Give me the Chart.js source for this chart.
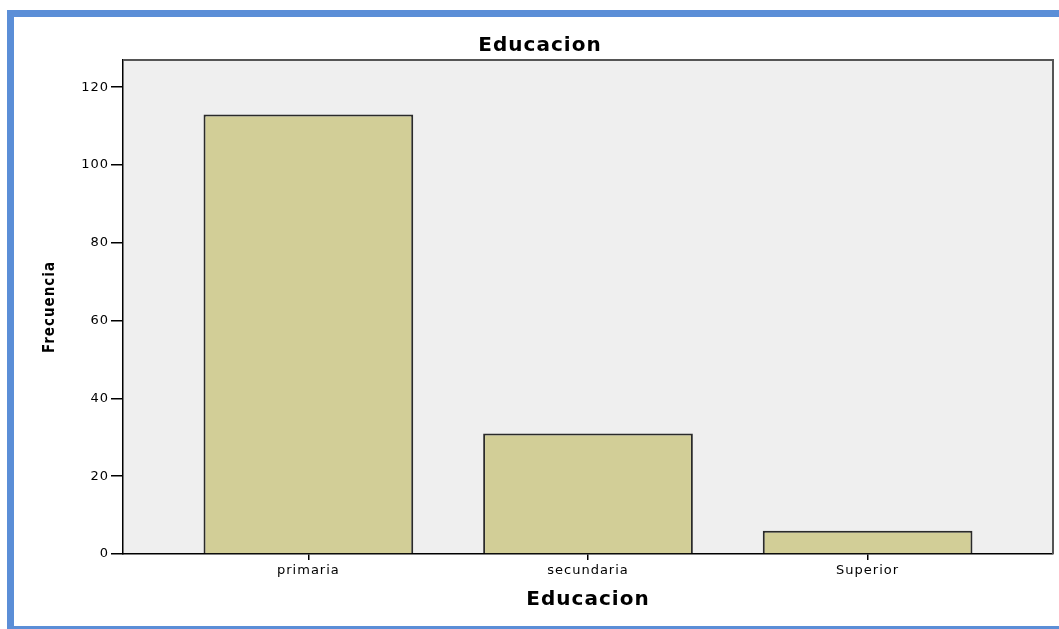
<!DOCTYPE html>
<html><head><meta charset="utf-8">
<script src="https://cdn.jsdelivr.net/npm/chart.js@4.4.0/dist/chart.umd.min.js"></script>
<style>
html,body{margin:0;padding:0;background:#fff;overflow:hidden;}
#frame{position:absolute;left:7px;top:10px;width:1100px;height:623px;box-sizing:border-box;border-left:7px solid #5B8ED7;border-top:7px solid #5B8ED7;border-bottom:7px solid #5B8ED7;}
#c{position:absolute;left:0;top:0;}
</style></head><body>
<div id="frame"></div>
<canvas id="c" width="1059" height="629"></canvas>
<script>
const categories = ['primaria', 'secundaria', 'Superior'];
const frequencies = [113, 31, 6];
const yTickValues = [0, 20, 40, 60, 80, 100, 120];
const chartTitle = 'Educacion';
const xAxisTitle = 'Educacion';
const yAxisTitle = 'Frecuencia';

const areaPlugin = {
  id: 'area',
  beforeUpdate(chart) { chart.ctx.letterSpacing = '1px'; },
  beforeDraw(chart) {
    const {ctx, chartArea: a} = chart;
    ctx.letterSpacing = '1px';
    ctx.save();
    ctx.fillStyle = '#EFEFEF';
    ctx.fillRect(a.left, a.top, a.right - a.left, a.bottom - a.top);
    ctx.restore();
  },
  afterDraw(chart) {
    const {ctx, chartArea: a} = chart;
    ctx.save();
    ctx.strokeStyle = '#555';
    ctx.lineWidth = 2;
    ctx.beginPath();
    ctx.moveTo(a.left, a.top);
    ctx.lineTo(a.right, a.top);
    ctx.lineTo(a.right, a.bottom);
    ctx.stroke();
    ctx.restore();
  }
};

const tickFont = {family: "'DejaVu Sans', sans-serif", size: 13};
const titleFont = {family: "'DejaVu Sans', sans-serif", size: 20, weight: 'bold'};

new Chart(document.getElementById('c'), {
  type: 'bar',
  data: {
    datasets: [{
      data: categories.map((c, i) => ({x: i, y: frequencies[i]})),
      backgroundColor: '#D2CE97',
      borderColor: '#2a2a2a',
      borderWidth: 2,
      barPercentage: 0.75,
      categoryPercentage: 1
    }]
  },
  options: {
    responsive: false,
    animation: false,
    devicePixelRatio: 1,
    layout: {padding: {left: 27, right: 6, top: 0, bottom: 0}},
    plugins: {
      legend: {display: false},
      tooltip: {enabled: false},
      title: {
        display: true, text: chartTitle, color: '#000', font: titleFont,
        padding: {top: 34, bottom: 2}
      }
    },
    scales: {
      x: {
        type: 'linear', position: 'bottom', min: -0.663, max: 2.663, offset: false,
        afterBuildTicks(s) { s.ticks = categories.map((c, i) => ({value: i})); },
        afterFit(s) { s.height = 75; },
        grid: {offset: false, drawOnChartArea: false, drawTicks: true, tickLength: 6, color: '#000', lineWidth: 1.5},
        border: {display: true, color: '#000', width: 1.5},
        ticks: {padding: 3, font: tickFont, color: '#000', callback: (v) => categories[v]},
        title: {display: true, text: xAxisTitle, color: '#000', font: titleFont, padding: {top: 0, bottom: 17}}
      },
      y: {
        position: 'left', min: 0, max: 127,
        afterBuildTicks(s) { s.ticks = yTickValues.map(v => ({value: v})); },
        afterFit(s) { s.width = 96; },
        grid: {drawOnChartArea: false, drawTicks: true, tickLength: 12, color: '#000', lineWidth: 1.5},
        border: {display: true, color: '#000', width: 1.5},
        ticks: {padding: 2, font: tickFont, color: '#000'},
        title: {
          display: true, text: yAxisTitle, color: '#000',
          font: {family: "'DejaVu Sans Condensed', 'DejaVu Sans', sans-serif", size: 15, weight: 'bold'},
          padding: {top: 14, bottom: 0}
        }
      }
    }
  },
  plugins: [areaPlugin]
});
</script>
</body></html>
